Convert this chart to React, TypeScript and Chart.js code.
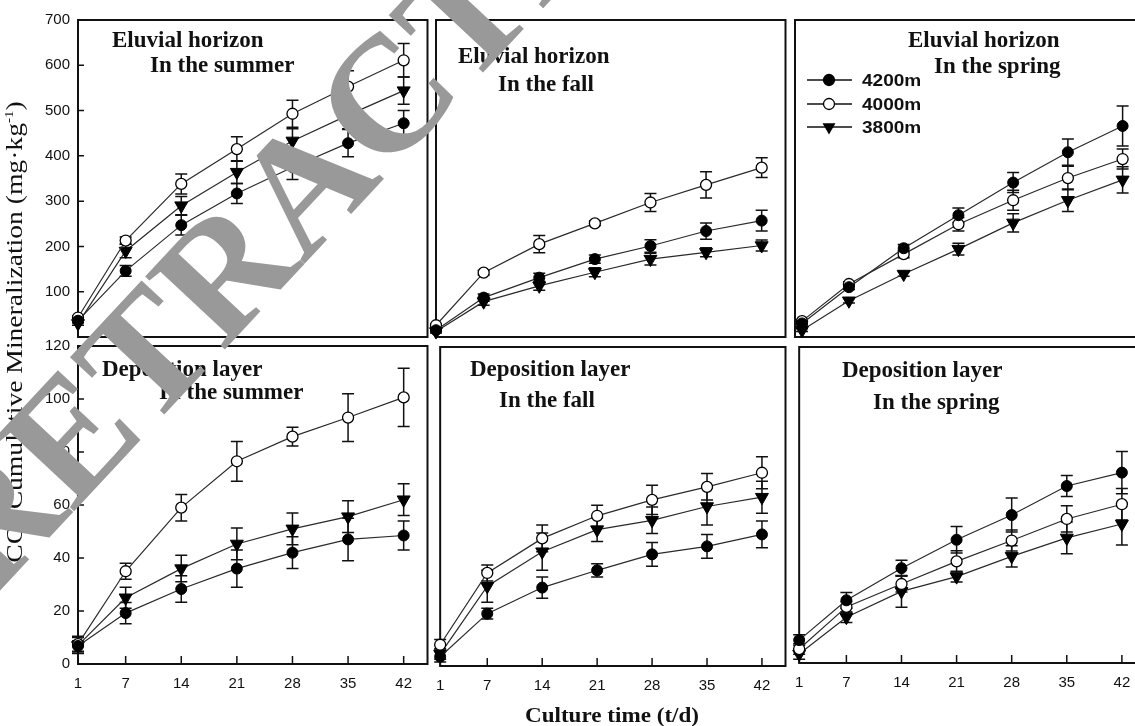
import React, { useEffect, useRef } from 'react';
import { Chart, registerables } from 'chart.js';

Chart.register(...registerables);

// ---- data -------------------------------------------------------------
const days = [1, 7, 14, 21, 28, 35, 42];
const xTickValues = [1, 7, 14, 21, 28, 35, 42];
const altitudes = ['4200m', '4000m', '3800m'];
const eluvialTicks = [100, 200, 300, 400, 500, 600, 700];
const depositionTicks = [0, 20, 40, 60, 80, 100, 120];

// Eluvial horizon, summer
const eluSummer4200 = [36, 146, 247, 317, 375, 428, 472];
const eluSummer4200Err = [5, 12, 22, 22, 27, 30, 28];
const eluSummer4000 = [43, 213, 338, 415, 493, 553, 611];
const eluSummer4000Err = [4, 8, 22, 27, 30, 35, 37];
const eluSummer3800 = [30, 190, 290, 364, 433, 490, 544];
const eluSummer3800Err = [4, 15, 20, 25, 27, 30, 30];

// Eluvial horizon, fall
const eluFall4200 = [15, 87, 131, 172, 201, 234, 257];
const eluFall4200Err = [3, 8, 10, 9, 14, 18, 23];
const eluFall4000 = [26, 142, 205, 251, 297, 336, 374];
const eluFall4000Err = [3, 5, 19, 5, 20, 29, 22];
const eluFall3800 = [12, 78, 113, 143, 172, 187, 202];
const eluFall3800Err = [3, 8, 10, 10, 13, 10, 12];

// Eluvial horizon, spring
const eluSpring4200 = [30, 110, 196, 269, 341, 408, 466];
const eluSpring4200Err = [3, 5, 8, 16, 22, 29, 44];
const eluSpring4000 = [35, 117, 183, 249, 302, 351, 393];
const eluSpring4000Err = [3, 5, 8, 15, 22, 26, 22];
const eluSpring3800 = [15, 80, 139, 194, 252, 302, 347];
const eluSpring3800Err = [3, 5, 5, 13, 20, 25, 29];

// Deposition layer, summer
const depSummer4200 = [6.8, 19.2, 28.3, 36, 42, 47, 48.5];
const depSummer4200Err = [2, 4, 5, 7, 6, 8, 5.5];
const depSummer4000 = [7.5, 35, 59, 76.5, 85.8, 93, 100.6];
const depSummer4000Err = [3, 3, 5, 7.5, 3.5, 9, 11];
const depSummer3800 = [7, 25, 36, 45.3, 51, 55.6, 62];
const depSummer3800Err = [3, 4, 5, 6, 6, 6, 6];

// Deposition layer, fall
const depFall4200 = [3.5, 19.7, 29.5, 36, 42, 45, 49.5];
const depFall4200Err = [2, 2, 4, 2.5, 4.5, 4.5, 5];
const depFall4000 = [8, 35, 48, 56.5, 62.5, 67.4, 72.7];
const depFall4000Err = [2, 3, 5, 4, 5.5, 5, 6];
const depFall3800 = [4.5, 30, 43, 51.3, 54.8, 60, 63.5];
const depFall3800Err = [2, 6, 7, 4.5, 5, 7, 6];

// Deposition layer, spring
const depSpring4200 = [8.7, 23.8, 36, 46.8, 56.2, 67.2, 72.3];
const depSpring4200Err = [2, 3, 3, 5, 6.5, 4, 8];
const depSpring4000 = [5.3, 21.3, 30, 38.6, 46.5, 54.7, 60.3];
const depSpring4000Err = [2, 2, 3, 4, 4, 5, 6];
const depSpring3800 = [3.4, 17.4, 27.2, 32.8, 40.5, 47.5, 52.8];
const depSpring3800Err = [2, 2, 6, 2, 4, 6, 8];

// ---- styling ------------------------------------------------------------
const INK = '#111';
const SERIF = '"Liberation Serif", "Times New Roman", serif';
const SANS = '"Liberation Sans", Arial, sans-serif';

type Kind = 'filled' | 'open' | 'tri';
const kinds: Kind[] = ['filled', 'open', 'tri'];

type Box = { x: number; y: number; w: number; h: number };
type Title = { text: string; x: number; y: number };

interface PanelDef {
  id: string;
  box: Box;
  yMin: number;
  yMax: number;
  yTicks: number[];
  xMin: number;
  xMax: number;
  showY: boolean;
  showX: boolean;
  series: number[][];
  errors: number[][];
  titles: Title[];
  legend: boolean;
}

const panels: PanelDef[] = [
  {
    id: 'elu-summer', box: { x: 78, y: 20, w: 350, h: 317 },
    yMin: 0, yMax: 700, yTicks: eluvialTicks, xMin: 1, xMax: 45, showY: true, showX: false,
    series: [eluSummer4200, eluSummer4000, eluSummer3800],
    errors: [eluSummer4200Err, eluSummer4000Err, eluSummer3800Err],
    titles: [{ text: 'Eluvial horizon', x: 112, y: 41 }, { text: 'In the summer', x: 150, y: 66 }],
    legend: false,
  },
  {
    id: 'elu-fall', box: { x: 436, y: 20, w: 350, h: 317 },
    yMin: 0, yMax: 700, yTicks: eluvialTicks, xMin: 1, xMax: 45, showY: false, showX: false,
    series: [eluFall4200, eluFall4000, eluFall3800],
    errors: [eluFall4200Err, eluFall4000Err, eluFall3800Err],
    titles: [{ text: 'Eluvial horizon', x: 458, y: 57 }, { text: 'In the fall', x: 498, y: 85 }],
    legend: false,
  },
  {
    id: 'elu-spring', box: { x: 795, y: 20, w: 350, h: 317 },
    yMin: 0, yMax: 700, yTicks: eluvialTicks, xMin: 0.1, xMax: 44.8, showY: false, showX: false,
    series: [eluSpring4200, eluSpring4000, eluSpring3800],
    errors: [eluSpring4200Err, eluSpring4000Err, eluSpring3800Err],
    titles: [{ text: 'Eluvial horizon', x: 908, y: 41 }, { text: 'In the spring', x: 934, y: 67 }],
    legend: true,
  },
  {
    id: 'dep-summer', box: { x: 78, y: 346, w: 350, h: 318 },
    yMin: 0, yMax: 120, yTicks: depositionTicks, xMin: 1, xMax: 45, showY: true, showX: true,
    series: [depSummer4200, depSummer4000, depSummer3800],
    errors: [depSummer4200Err, depSummer4000Err, depSummer3800Err],
    titles: [{ text: 'Deposition layer', x: 102, y: 370 }, { text: 'In the summer', x: 159, y: 393 }],
    legend: false,
  },
  {
    id: 'dep-fall', box: { x: 437, y: 347, w: 349, h: 319 },
    yMin: 0, yMax: 120, yTicks: depositionTicks, xMin: 1, xMax: 45, showY: false, showX: true,
    series: [depFall4200, depFall4000, depFall3800],
    errors: [depFall4200Err, depFall4000Err, depFall3800Err],
    titles: [{ text: 'Deposition layer', x: 470, y: 370 }, { text: 'In the fall', x: 499, y: 401 }],
    legend: false,
  },
  {
    id: 'dep-spring', box: { x: 796, y: 347, w: 350, h: 316 },
    yMin: 0, yMax: 120, yTicks: depositionTicks, xMin: 1, xMax: 45, showY: false, showX: true,
    series: [depSpring4200, depSpring4000, depSpring3800],
    errors: [depSpring4200Err, depSpring4000Err, depSpring3800Err],
    titles: [{ text: 'Deposition layer', x: 842, y: 371 }, { text: 'In the spring', x: 873, y: 403 }],
    legend: false,
  },
];

function drawMarker(ctx: CanvasRenderingContext2D, kind: Kind, x: number, y: number) {
  ctx.save();
  ctx.beginPath();
  if (kind === 'tri') {
    const r = 7.5;
    const s = Math.sin(Math.PI / 3) * r;
    ctx.moveTo(x, y + r);
    ctx.lineTo(x - s, y - r / 2);
    ctx.lineTo(x + s, y - r / 2);
    ctx.closePath();
    ctx.fillStyle = '#000';
    ctx.fill();
  } else {
    ctx.arc(x, y, 5.5, 0, Math.PI * 2);
    ctx.fillStyle = kind === 'filled' ? '#000' : '#fff';
    ctx.fill();
    ctx.lineWidth = 1.3;
    ctx.strokeStyle = '#000';
    ctx.stroke();
  }
  ctx.restore();
}

function Panel({ def }: { def: PanelDef }) {
  const ref = useRef<HTMLCanvasElement | null>(null);
  // room around the plot box; the top and bottom margins must exceed the
  // half-height of a tick label plus its padding so the box is not shifted
  const padL = def.showY ? 62 : 12;
  const padT = 22;
  const padR = 8;
  const padB = def.showX ? 36 : 22;
  const left = def.box.x - padL;
  const top = def.box.y - padT;
  const width = def.box.w + padL + padR;
  const height = def.box.h + padT + padB;

  useEffect(() => {
    if (!ref.current) return;

    const framePlugin = {
      id: 'frameAndTicks',
      beforeDatasetsDraw(chart: any) {
        const { ctx, chartArea: a, scales } = chart;
        ctx.save();
        ctx.strokeStyle = INK;
        ctx.lineWidth = 2;
        ctx.strokeRect(a.left, a.top, a.right - a.left, a.bottom - a.top);
        ctx.lineWidth = 1.5;
        ctx.beginPath();
        if (def.showY) {
          for (const t of scales.y.ticks) {
            const py = scales.y.getPixelForValue(t.value);
            ctx.moveTo(a.left, py);
            ctx.lineTo(a.left + 6, py);
          }
        }
        if (def.showX) {
          for (const t of scales.x.ticks) {
            const px = scales.x.getPixelForValue(t.value);
            ctx.moveTo(px, a.bottom);
            ctx.lineTo(px, a.bottom - 8);
          }
        }
        ctx.stroke();
        ctx.restore();
      },
    };

    const errorBarPlugin = {
      id: 'errorBars',
      beforeDatasetsDraw(chart: any) {
        const { ctx, scales } = chart;
        ctx.save();
        ctx.strokeStyle = INK;
        ctx.lineWidth = 1.5;
        chart.data.datasets.forEach((ds: any, i: number) => {
          ds.data.forEach((p: { x: number; y: number }, j: number) => {
            const e = def.errors[i][j];
            const px = scales.x.getPixelForValue(p.x);
            const yt = scales.y.getPixelForValue(p.y + e);
            const yb = scales.y.getPixelForValue(p.y - e);
            ctx.beginPath();
            ctx.moveTo(px, yt);
            ctx.lineTo(px, yb);
            ctx.moveTo(px - 6, yt);
            ctx.lineTo(px + 6, yt);
            ctx.moveTo(px - 6, yb);
            ctx.lineTo(px + 6, yb);
            ctx.stroke();
          });
        });
        ctx.restore();
      },
    };

    const labelPlugin = {
      id: 'panelLabels',
      afterDraw(chart: any) {
        const { ctx } = chart;
        ctx.save();
        ctx.fillStyle = INK;
        ctx.font = `bold 23px ${SERIF}`;
        ctx.textAlign = 'left';
        ctx.textBaseline = 'middle';
        for (const t of def.titles) {
          ctx.fillText(t.text, t.x - left, t.y - top);
        }
        if (def.legend) {
          const rows = [80, 104, 127];
          rows.forEach((ry, i) => {
            const y = ry - top;
            ctx.beginPath();
            ctx.strokeStyle = INK;
            ctx.lineWidth = 1.5;
            ctx.moveTo(807 - left, y);
            ctx.lineTo(852 - left, y);
            ctx.stroke();
            drawMarker(ctx, kinds[i], 829 - left, y);
            ctx.save();
            ctx.translate(862 - left, y);
            ctx.scale(1.12, 1);
            ctx.font = `bold 17px ${SANS}`;
            ctx.fillStyle = INK;
            ctx.textAlign = 'left';
            ctx.textBaseline = 'middle';
            ctx.fillText(altitudes[i], 0, 1);
            ctx.restore();
          });
        }
        ctx.restore();
      },
    };

    const datasets = def.series.map((vals, i) => {
      const kind = kinds[i];
      return {
        label: altitudes[i],
        data: vals.map((v, j) => ({ x: days[j], y: v })),
        borderColor: '#2a2a2a',
        borderWidth: 1.2,
        tension: 0,
        clip: false as any,
        pointStyle: kind === 'tri' ? 'triangle' : 'circle',
        pointRotation: kind === 'tri' ? 180 : 0,
        pointRadius: kind === 'tri' ? 7.5 : 5.5,
        pointBackgroundColor: kind === 'open' ? '#fff' : '#000',
        pointBorderColor: '#000',
        pointBorderWidth: kind === 'open' ? 1.3 : 1,
        pointHoverRadius: kind === 'tri' ? 7.5 : 5.5,
      };
    });

    const chart = new Chart(ref.current, {
      type: 'line',
      data: { datasets } as any,
      options: {
        animation: false,
        responsive: false,
        devicePixelRatio: 1,
        events: [],
        layout: { padding: { left: 0, top: padT, right: padR, bottom: 0 } },
        plugins: { legend: { display: false }, tooltip: { enabled: false } },
        scales: {
          x: {
            type: 'linear',
            min: def.xMin,
            max: def.xMax,
            grid: { display: false, drawTicks: false },
            border: { display: false },
            afterBuildTicks: (s: any) => {
              s.ticks = xTickValues.map((v) => ({ value: v }));
            },
            afterFit: (s: any) => {
              s.height = padB;
            },
            ticks: {
              display: def.showX,
              autoSkip: false,
              maxRotation: 0,
              padding: 11,
              color: INK,
              font: { family: SANS, size: 15 },
            },
          },
          y: {
            type: 'linear',
            min: def.yMin,
            max: def.yMax,
            grid: { display: false, drawTicks: false },
            border: { display: false },
            afterBuildTicks: (s: any) => {
              s.ticks = def.yTicks.map((v) => ({ value: v }));
            },
            afterFit: (s: any) => {
              s.width = padL;
            },
            ticks: {
              display: def.showY,
              padding: 8,
              color: INK,
              font: { family: SANS, size: 15 },
            },
          },
        },
      } as any,
      plugins: [framePlugin, errorBarPlugin, labelPlugin],
    });
    return () => chart.destroy();
  }, []);

  return (
    <canvas
      ref={ref}
      width={width}
      height={height}
      style={{ position: 'absolute', left, top, width, height }}
    />
  );
}

function Watermark() {
  const ref = useRef<HTMLCanvasElement | null>(null);
  useEffect(() => {
    const c = ref.current;
    if (!c) return;
    const ctx = c.getContext('2d');
    if (!ctx) return;
    ctx.clearRect(0, 0, c.width, c.height);
    ctx.save();
    ctx.translate(304, 184);
    ctx.rotate((-47 * Math.PI) / 180);
    ctx.font = `bold 165px ${SERIF}`;
    ctx.textAlign = 'center';
    ctx.textBaseline = 'alphabetic';
    ctx.fillStyle = '#999999';
    ctx.fillText('RETRACTED', 0, 55);
    ctx.restore();
  }, []);
  return (
    <canvas
      ref={ref}
      width={1135}
      height={726}
      style={{ position: 'absolute', left: 0, top: 0, width: 1135, height: 726, zIndex: 5, pointerEvents: 'none' }}
    />
  );
}

export default function App() {
  return (
    <div
      style={{
        position: 'fixed',
        left: 0,
        top: 0,
        width: 1135,
        height: 726,
        overflow: 'hidden',
        background: '#fff',
      }}
    >
      {panels.map((p) => (
        <Panel key={p.id} def={p} />
      ))}
      <div
        style={{
          position: 'absolute',
          left: 16,
          top: 332,
          transform: 'translate(-50%, -50%) rotate(-90deg) scaleX(1.15)',
          whiteSpace: 'nowrap',
          fontFamily: SERIF,
          fontSize: 24,
          lineHeight: 1,
          color: INK,
        }}
      >
        CO<sub style={{ fontSize: 14 }}>2</sub> Cumulative Mineralization (mg·kg<sup style={{ fontSize: 13 }}>-1</sup>)
      </div>
      <div
        style={{
          position: 'absolute',
          left: 612,
          top: 715,
          transform: 'translate(-50%, -50%) scaleX(1.1)',
          whiteSpace: 'nowrap',
          fontFamily: SERIF,
          fontWeight: 'bold',
          fontSize: 21,
          lineHeight: 1,
          color: INK,
        }}
      >
        Culture time (t/d)
      </div>
      <Watermark />
    </div>
  );
}
